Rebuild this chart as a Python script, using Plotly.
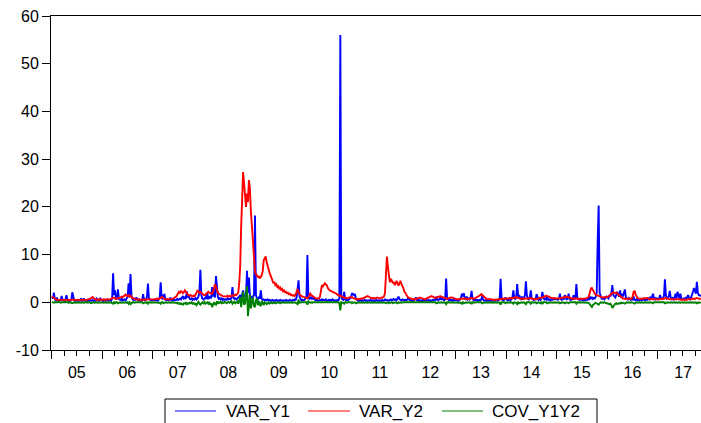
import pandas as pd
import plotly.graph_objects as go

# Weekly readings, one row per calendar year (2017 runs to early November)
YEARS = list(range(2005, 2018))

var_y1 = [
    [1.2, 0.8, 2.0, 0.6, 0.4, 1.0, 0.4, 0.3, 0.5, 0.4, 1.3, 0.5, 0.4, 0.3, 0.6, 1.5, 0.5, 0.3, 0.4, 0.3,
     0.5, 2.1, 1.2, 0.4, 0.3, 0.4, 0.3, 0.5, 0.3, 0.4, 0.8, 0.3, 0.4, 0.8, 0.3, 0.3, 0.4, 0.3, 0.5, 0.3,
     0.4, 0.3, 0.5, 0.3, 0.4, 0.3, 0.8, 0.4, 0.3, 0.5, 0.9, 0.4],
    [0.4, 0.3, 0.5, 0.3, 0.4, 0.6, 0.3, 0.4, 0.5, 0.3, 0.8, 6.1, 1.5, 2.5, 0.6, 0.8, 2.7, 0.7, 0.5, 0.4,
     0.9, 0.4, 0.5, 0.6, 0.4, 0.8, 1.2, 4.0, 1.0, 5.9, 1.3, 0.7, 0.5, 0.9, 0.4, 1.0, 0.5, 0.4, 0.6, 0.3,
     0.5, 0.4, 1.7, 0.5, 0.4, 0.6, 1.2, 3.9, 0.8, 0.5, 0.4, 0.5],
    [0.5, 0.4, 0.6, 0.4, 0.5, 0.3, 0.6, 1.0, 4.2, 1.2, 0.6, 1.5, 1.6, 0.5, 0.4, 0.6, 0.4, 0.5, 1.0, 0.4,
     0.5, 0.4, 0.6, 0.4, 0.5, 0.7, 0.5, 0.6, 0.8, 0.6, 0.9, 1.3, 0.8, 1.0, 0.7, 2.3, 1.0, 1.5, 0.7, 0.6,
     0.8, 0.5, 0.7, 0.6, 0.9, 0.6, 0.8, 1.2, 2.0, 6.8, 1.5, 0.8],
    [0.6, 0.8, 1.0, 0.7, 2.0, 0.8, 0.9, 1.3, 0.8, 3.2, 1.2, 2.5, 1.0, 5.5, 2.8, 1.0, 0.7, 0.9, 0.6, 0.8,
     0.5, 0.7, 0.5, 0.6, 0.5, 0.8, 0.6, 0.7, 0.6, 1.0, 3.2, 1.0, 0.7, 0.8, 0.6, 0.9, 1.0, 1.2, 1.5, 0.8,
     1.8, 2.5, 1.2, 1.5, 1.0, 6.6, 2.0, 5.2, 1.5, 1.0, 0.8, 1.2],
    [1.5, 18.2, 1.5, 0.8, 0.6, 1.0, 0.8, 2.5, 0.7, 0.5, 0.6, 0.4, 0.5, 0.4, 0.6, 0.4, 0.5, 0.3, 0.4, 0.5,
     0.3, 0.4, 0.3, 0.5, 0.3, 0.4, 0.3, 0.5, 0.3, 0.4, 0.3, 0.4, 0.3, 0.5, 0.3, 0.4, 0.3, 0.5, 0.4, 0.3,
     0.5, 0.4, 0.6, 0.5, 1.0, 3.5, 4.6, 1.2, 0.6, 0.4, 0.5, 0.4],
    [0.5, 0.8, 1.2, 9.9, 1.2, 0.6, 1.0, 0.8, 1.2, 0.6, 1.0, 0.5, 0.4, 0.5, 0.3, 0.4, 0.5, 0.4, 0.6, 0.4,
     0.5, 0.4, 0.6, 0.4, 0.3, 0.5, 0.4, 0.5, 0.3, 0.6, 0.4, 0.3, 0.4, 0.3, 0.5, 0.4, 0.8, 56.0, 1.5, 0.6,
     0.5, 2.2, 0.6, 0.4, 0.5, 0.4, 0.6, 0.8, 1.0, 1.8, 1.8, 1.5],
    [1.6, 0.8, 0.4, 0.3, 0.4, 0.3, 0.5, 0.3, 0.4, 0.3, 0.5, 0.3, 0.4, 0.3, 0.4, 0.3, 0.5, 0.3, 0.4, 0.3,
     0.4, 0.3, 0.5, 0.3, 0.4, 0.3, 0.4, 0.3, 0.5, 0.3, 0.4, 0.6, 0.4, 0.5, 0.3, 0.4, 0.5, 0.6, 0.4, 0.5,
     0.7, 0.5, 0.6, 0.4, 0.8, 1.2, 0.6, 0.5, 0.4, 0.6, 0.5, 0.4],
    [0.5, 0.4, 0.6, 1.0, 0.5, 0.4, 0.3, 0.5, 0.3, 0.4, 0.6, 1.0, 0.4, 0.3, 0.5, 0.3, 0.4, 0.3, 0.5, 0.3,
     0.4, 0.6, 0.4, 0.3, 0.5, 0.3, 0.4, 0.3, 0.5, 0.4, 0.6, 0.5, 1.2, 0.5, 0.4, 0.6, 0.9, 0.5, 0.9, 0.6,
     0.4, 0.6, 5.0, 0.8, 0.5, 0.4, 0.6, 0.4, 0.5, 0.3, 0.5, 0.4],
    [0.4, 0.5, 0.3, 0.4, 0.6, 0.8, 1.8, 1.2, 1.9, 0.9, 0.7, 1.2, 0.6, 0.8, 0.6, 1.0, 2.4, 0.8, 0.5, 0.4,
     0.6, 0.4, 0.5, 0.3, 0.5, 0.4, 0.6, 1.3, 0.5, 0.4, 0.3, 0.5, 0.3, 0.4, 0.3, 0.5, 0.3, 0.5, 0.3, 0.4,
     0.3, 0.5, 0.4, 0.3, 0.5, 0.6, 4.9, 0.8, 0.5, 0.4, 0.6, 1.0],
    [0.6, 0.4, 0.5, 0.8, 0.4, 0.6, 1.0, 2.5, 0.9, 0.6, 1.2, 3.8, 1.2, 1.5, 0.7, 0.5, 1.2, 0.6, 0.9, 1.5,
     4.4, 1.4, 0.8, 0.6, 1.0, 2.5, 0.8, 0.6, 0.5, 0.7, 0.6, 1.7, 0.8, 0.5, 0.7, 0.5, 0.8, 2.2, 1.0, 0.6,
     0.8, 0.6, 1.2, 0.5, 0.6, 0.4, 0.7, 0.5, 0.6, 0.8, 0.6, 0.7],
    [0.6, 0.5, 0.8, 1.8, 0.6, 0.5, 0.8, 0.6, 1.5, 0.7, 0.5, 0.9, 1.8, 0.6, 0.5, 0.7, 0.5, 1.5, 0.6, 1.0,
     3.8, 0.9, 0.6, 0.5, 0.7, 0.5, 0.6, 0.4, 0.5, 0.4, 0.6, 0.5, 0.7, 0.6, 1.2, 0.8, 1.0, 0.7, 0.9, 0.8,
     1.2, 2.0, 13.0, 20.3, 2.0, 1.0, 0.8, 0.7, 0.9, 0.6, 1.0, 1.2],
    [1.0, 0.8, 1.5, 1.2, 2.0, 3.6, 1.5, 1.2, 1.0, 1.5, 2.2, 1.6, 1.2, 2.5, 1.0, 1.8, 1.2, 2.0, 2.7, 1.0,
     0.8, 0.6, 0.9, 0.6, 0.5, 0.8, 0.6, 1.2, 0.5, 0.4, 0.6, 0.4, 0.5, 0.4, 0.6, 0.4, 0.5, 0.7, 0.5, 0.4,
     0.6, 0.5, 0.8, 0.6, 1.0, 0.7, 1.2, 1.8, 0.8, 0.6, 0.9, 0.7],
    [0.6, 0.8, 1.5, 0.9, 0.7, 1.0, 1.2, 4.8, 1.5, 0.8, 1.0, 1.2, 2.4, 1.0, 0.7, 0.9, 0.6, 1.0, 1.8, 0.8,
     2.2, 1.2, 0.8, 1.8, 0.7, 0.6, 0.8, 0.6, 0.9, 0.7, 1.2, 1.5, 0.8, 0.6, 1.0, 1.5, 2.2, 3.0, 2.3, 1.8,
     4.3, 2.0, 1.5, 1.5, 1.2],
]

var_y2 = [
    [1.2, 1.0, 0.8, 0.7, 0.6, 0.5, 0.5, 0.6, 0.5, 0.5, 0.6, 0.5, 0.5, 0.6, 0.5, 0.6, 0.5, 0.5, 0.4, 0.5,
     0.5, 0.6, 0.5, 0.5, 0.4, 0.5, 0.5, 0.4, 0.5, 0.4, 0.5, 0.4, 0.5, 0.5, 0.4, 0.5, 0.5, 0.6, 0.6, 0.7,
     0.8, 1.0, 1.1, 0.9, 0.7, 0.6, 0.6, 0.5, 0.6, 0.5, 0.6, 0.5],
    [0.5, 0.6, 0.5, 0.6, 0.5, 0.6, 0.6, 0.5, 0.6, 0.7, 0.8, 1.0, 0.9, 0.8, 0.7, 0.8, 0.9, 0.8, 0.9, 1.1,
     1.2, 1.1, 1.3, 1.4, 1.6, 1.4, 1.3, 1.5, 1.2, 1.4, 1.1, 0.9, 0.8, 0.7, 0.7, 0.6, 0.6, 0.5, 0.6, 0.5,
     0.5, 0.6, 0.5, 0.5, 0.6, 0.5, 0.6, 0.6, 0.7, 0.6, 0.6, 0.7],
    [0.6, 0.6, 0.7, 0.6, 0.8, 0.7, 0.7, 0.8, 0.9, 1.1, 1.0, 0.8, 0.7, 0.6, 0.6, 0.7, 0.6, 0.6, 0.7, 0.6,
     0.7, 0.8, 0.9, 1.0, 1.2, 1.5, 1.8, 2.2, 2.0, 2.3, 2.2, 1.9, 2.1, 2.5, 2.2, 1.8, 1.6, 1.5, 1.4, 1.5,
     1.3, 1.2, 1.4, 1.3, 1.6, 2.0, 2.4, 2.3, 2.0, 2.2, 2.0, 1.7],
    [1.6, 1.5, 1.5, 1.8, 2.0, 2.2, 2.0, 1.9, 1.8, 1.8, 2.2, 2.8, 3.8, 3.2, 2.5, 2.0, 1.8, 1.6, 1.5, 1.4,
     1.3, 1.3, 1.2, 1.3, 1.2, 1.4, 1.2, 1.3, 1.2, 1.4, 1.5, 1.3, 1.5, 1.6, 1.5, 1.8, 2.0, 4.0, 7.4, 15.8,
     22.0, 27.3, 25.0, 21.4, 20.0, 22.8, 21.0, 25.6, 24.0, 19.3, 15.8, 12.0],
    [8.8, 6.5, 5.8, 5.7, 5.2, 5.5, 5.0, 5.4, 5.7, 6.5, 8.8, 9.2, 9.6, 8.5, 7.6, 6.7, 6.2, 5.7, 5.0, 4.4,
     4.0, 4.3, 3.6, 3.8, 3.2, 3.4, 2.9, 3.1, 2.6, 2.8, 2.3, 2.5, 2.1, 2.2, 1.9, 2.0, 1.7, 1.8, 1.5, 1.6,
     1.4, 1.5, 1.3, 1.6, 2.2, 2.8, 2.0, 1.6, 1.5, 1.3, 1.2, 1.1],
    [1.0, 0.9, 0.8, 0.8, 1.0, 1.4, 1.8, 1.5, 1.3, 1.1, 1.0, 0.9, 0.8, 0.8, 0.7, 0.8, 1.2, 2.5, 3.6, 3.3,
     3.8, 4.0, 3.7, 3.6, 3.0, 2.7, 2.5, 2.4, 2.3, 2.2, 2.2, 2.0, 1.9, 1.8, 1.6, 1.5, 1.4, 1.3, 1.2, 1.2,
     1.1, 1.0, 0.9, 0.9, 0.8, 0.9, 1.0, 1.1, 1.0, 1.1, 0.9, 0.8],
    [0.7, 0.6, 0.6, 0.7, 0.6, 0.7, 0.8, 0.7, 0.8, 0.9, 1.0, 1.1, 1.2, 1.3, 1.2, 1.0, 0.9, 0.8, 0.9, 0.8,
     0.9, 0.8, 0.9, 1.0, 0.9, 0.8, 0.9, 1.0, 0.9, 1.0, 1.2, 2.0, 6.5, 9.6, 7.4, 5.5, 4.2, 4.8, 4.6, 4.0,
     4.3, 3.6, 3.9, 4.5, 3.8, 3.5, 4.0, 4.5, 3.8, 3.4, 3.0, 2.2],
    [2.0, 1.5, 1.2, 1.0, 0.9, 0.8, 0.7, 0.7, 0.6, 0.7, 0.6, 0.7, 0.8, 0.9, 1.0, 1.0, 0.9, 0.8, 0.7, 0.7,
     0.6, 0.7, 0.8, 0.9, 1.0, 1.1, 1.2, 1.3, 1.2, 1.1, 1.0, 0.9, 1.0, 1.1, 1.2, 1.1, 1.3, 1.2, 1.1, 1.0,
     0.9, 0.8, 0.8, 0.7, 0.8, 0.9, 0.9, 1.0, 1.0, 0.9, 0.8, 0.7],
    [0.7, 0.6, 0.6, 0.7, 0.6, 0.7, 0.8, 0.7, 0.8, 0.7, 0.8, 0.7, 0.6, 0.7, 0.8, 0.8, 0.9, 0.8, 0.7, 0.8,
     0.9, 1.0, 1.1, 1.2, 1.3, 1.5, 1.7, 1.5, 1.2, 1.0, 0.9, 0.8, 0.7, 0.7, 0.6, 0.6, 0.6, 0.6, 0.5, 0.6,
     0.6, 0.5, 0.6, 0.6, 0.7, 0.6, 0.6, 0.7, 0.8, 0.7, 0.7, 0.8],
    [0.8, 0.7, 0.8, 0.8, 0.9, 0.8, 0.8, 0.9, 1.0, 1.0, 1.1, 1.0, 0.9, 0.8, 0.7, 0.7, 0.8, 0.7, 0.7, 0.8,
     0.8, 0.7, 0.7, 0.8, 0.8, 0.9, 0.8, 0.7, 0.7, 0.6, 0.7, 0.7, 0.8, 0.8, 0.9, 0.9, 1.0, 1.0, 1.1, 1.2,
     1.3, 1.4, 1.3, 1.3, 1.2, 1.0, 0.9, 0.8, 0.8, 0.9, 0.8, 0.8],
    [0.8, 0.8, 0.9, 0.9, 0.8, 0.9, 1.0, 1.0, 1.1, 1.1, 1.2, 1.1, 1.0, 0.9, 0.9, 0.8, 0.8, 0.7, 0.8, 0.8,
     0.9, 0.8, 0.7, 0.7, 0.8, 0.7, 0.7, 0.8, 0.7, 0.8, 0.8, 0.9, 1.0, 1.3, 2.2, 2.9, 3.0, 2.5, 2.0, 1.8,
     1.6, 1.5, 1.4, 1.4, 1.3, 1.2, 1.1, 1.0, 1.0, 1.1, 1.0, 1.1],
    [1.1, 1.2, 1.3, 1.6, 1.8, 2.0, 2.1, 2.0, 1.9, 2.0, 1.8, 1.7, 1.4, 1.2, 1.0, 0.9, 0.8, 0.8, 0.7, 0.7,
     0.8, 0.7, 0.7, 0.8, 0.7, 0.8, 1.2, 2.2, 2.4, 1.6, 1.1, 0.9, 0.8, 0.7, 0.7, 0.8, 0.7, 0.8, 0.9, 0.8,
     0.9, 0.9, 0.8, 0.7, 0.6, 0.7, 0.6, 0.6, 0.7, 0.6, 0.6, 0.6],
    [0.6, 0.7, 0.6, 0.6, 0.7, 0.8, 0.7, 0.8, 0.9, 0.8, 0.7, 0.7, 0.6, 0.6, 0.7, 0.6, 0.6, 0.5, 0.6, 0.6,
     0.7, 0.6, 0.6, 0.5, 0.5, 0.6, 0.5, 0.6, 0.6, 0.5, 0.6, 0.6, 0.7, 0.6, 0.6, 0.7, 0.8, 0.7, 0.7, 0.8,
     0.9, 0.8, 0.7, 0.7, 0.8],
]

cov_y1y2 = [
    [0.1, 0.0, -0.1, 0.0, 0.0, -0.1, 0.0, 0.1, 0.0, -0.1, 0.0, 0.0, -0.1, 0.0, 0.0, 0.1, 0.0, -0.1, 0.0, 0.0,
     -0.1, -0.2, 0.0, 0.0, -0.1, 0.0, 0.0, -0.1, 0.0, 0.0, -0.1, 0.0, 0.0, -0.1, 0.0, 0.0, 0.0, -0.1, 0.0, 0.0,
     -0.2, -0.1, 0.0, 0.0, -0.1, 0.0, 0.0, -0.1, 0.0, 0.0, -0.1, 0.0],
    [0.0, -0.1, 0.0, 0.0, -0.1, 0.0, 0.0, -0.1, 0.0, 0.0, -0.2, -0.3, 0.0, -0.2, 0.0, 0.0, -0.2, 0.0, 0.0, -0.1,
     0.0, 0.0, -0.1, 0.0, 0.0, -0.1, 0.0, -0.3, 0.0, -0.4, -0.1, 0.0, 0.0, -0.1, 0.0, 0.0, -0.1, 0.0, 0.0, -0.1,
     0.0, 0.0, -0.2, 0.0, 0.0, -0.1, 0.0, -0.3, 0.0, 0.0, -0.1, 0.0],
    [0.0, -0.1, 0.0, 0.0, -0.1, 0.0, 0.0, -0.1, -0.3, 0.0, 0.0, -0.2, -0.1, 0.0, 0.0, -0.1, 0.0, 0.0, -0.1, 0.0,
     0.0, -0.1, 0.0, -0.1, -0.2, -0.1, -0.3, -0.2, -0.4, -0.2, -0.3, -0.5, -0.2, -0.3, -0.1, -0.4, -0.2, -0.3, -0.1, -0.2,
     0.0, -0.3, -0.2, -0.4, -0.3, -0.6, -0.2, 0.1, -0.3, -0.5, -0.2, 0.0],
    [-0.2, 0.1, -0.3, -0.2, 0.0, -0.3, 0.1, -0.5, -0.2, -1.0, -0.3, 0.0, -0.4, -0.5, 0.2, -0.3, 0.0, -0.1, 0.1, -0.2,
     0.0, -0.1, 0.1, 0.0, -0.2, 0.0, 0.1, -0.1, 0.0, 0.2, -0.3, 0.0, 0.1, -0.2, 0.0, 0.2, -0.3, 0.3, 1.1, -1.0,
     0.5, 2.2, -0.5, -0.3, 1.5, 3.4, -2.9, 0.5, 1.5, -1.3, 0.6, 1.1],
    [-0.8, -1.0, 0.4, 0.8, -0.6, 0.2, -0.5, -0.8, 0.3, -0.4, -0.6, 0.1, -0.3, -0.4, -0.2, 0.0, -0.3, -0.2, 0.0, -0.2,
     -0.1, 0.0, -0.2, -0.1, 0.0, -0.1, 0.0, -0.2, 0.0, -0.1, 0.0, 0.0, -0.1, 0.0, 0.0, -0.1, 0.0, 0.0, -0.1, 0.0,
     -0.1, 0.0, 0.0, -0.1, -0.2, -0.4, 0.6, -0.1, 0.0, 0.0, -0.1, 0.0],
    [0.0, -0.1, 0.0, -0.5, 0.2, 0.0, -0.1, 0.0, -0.1, 0.0, 0.0, -0.1, 0.0, 0.0, -0.1, 0.0, 0.0, -0.1, 0.0, -0.1,
     0.0, 0.0, -0.1, 0.0, 0.0, -0.1, 0.0, 0.0, -0.1, 0.0, 0.0, -0.1, 0.0, 0.0, -0.1, 0.0, -0.2, -1.7, 0.0, 0.0,
     -0.1, -0.3, 0.0, 0.0, -0.1, 0.0, 0.0, -0.1, 0.0, -0.2, 0.0, -0.1],
    [0.0, -0.2, 0.0, 0.0, -0.1, 0.0, 0.0, -0.1, 0.0, 0.0, -0.1, 0.0, 0.0, -0.1, 0.0, 0.0, -0.1, 0.0, 0.0, -0.1,
     0.0, 0.0, -0.1, 0.0, 0.0, -0.1, 0.0, 0.0, -0.1, 0.0, 0.0, -0.1, -0.2, -0.1, 0.0, -0.2, 0.0, -0.1, 0.0, -0.2,
     0.0, -0.1, 0.0, -0.1, -0.2, 0.0, -0.1, 0.0, -0.1, 0.0, 0.0, -0.1],
    [0.0, -0.1, 0.0, -0.1, 0.0, 0.0, -0.1, 0.0, 0.0, -0.1, 0.0, -0.1, 0.0, 0.0, -0.1, 0.0, 0.0, -0.1, 0.0, 0.0,
     -0.1, 0.0, 0.0, -0.1, 0.0, 0.0, -0.1, 0.0, 0.0, -0.1, 0.0, 0.0, -0.2, 0.0, 0.0, -0.1, 0.0, 0.0, -0.1, 0.0,
     0.0, -0.1, -0.4, 0.0, 0.0, -0.1, 0.0, 0.0, -0.1, 0.0, 0.0, -0.1],
    [0.0, 0.0, -0.1, 0.0, 0.0, -0.1, -0.3, 0.0, -0.2, 0.0, 0.0, -0.1, 0.0, 0.0, -0.1, 0.0, -0.4, 0.0, 0.0, -0.1,
     0.0, 0.0, -0.1, 0.0, 0.0, -0.1, 0.0, -0.2, 0.0, 0.0, -0.1, 0.0, 0.0, -0.1, 0.0, 0.0, -0.1, 0.0, 0.0, -0.1,
     0.0, 0.0, -0.1, 0.0, 0.0, -0.1, -0.5, 0.0, 0.0, -0.1, 0.0, -0.2],
    [0.0, -0.1, 0.0, 0.0, -0.1, 0.0, -0.1, -0.3, 0.0, 0.0, -0.1, -0.4, 0.0, -0.2, 0.0, 0.0, -0.1, 0.0, 0.0, -0.2,
     -0.4, 0.0, 0.0, -0.1, 0.0, -0.3, 0.0, 0.0, -0.1, 0.0, 0.0, -0.2, 0.0, 0.0, -0.1, -0.2, 0.0, -0.4, 0.0, 0.0,
     -0.1, 0.0, -0.2, 0.0, 0.0, -0.1, 0.0, 0.0, -0.1, 0.0, 0.0, -0.1],
    [0.0, -0.1, 0.0, -0.2, 0.0, 0.0, -0.1, 0.0, -0.2, 0.0, 0.0, -0.1, -0.2, 0.0, 0.0, -0.1, 0.0, 0.0, -0.1, 0.0,
     -0.3, 0.0, 0.0, -0.1, 0.0, 0.0, -0.1, 0.0, 0.0, -0.1, 0.0, 0.0, -0.1, -0.2, -0.4, -0.7, -1.0, -0.6, -0.3, -0.2,
     -0.1, -0.2, -0.3, -0.5, -0.2, 0.0, -0.1, 0.0, -0.1, 0.0, -0.1, -0.2],
    [-0.2, -0.3, -0.4, -0.3, -0.6, -1.2, -0.8, -0.4, -0.3, -0.2, -0.4, -0.3, -0.2, -0.3, -0.1, -0.2, -0.1, -0.2, -0.3, -0.1,
     0.0, -0.1, 0.0, -0.1, 0.0, 0.0, -0.1, -0.2, -0.3, -0.1, 0.0, -0.1, 0.0, 0.0, -0.1, 0.0, 0.0, -0.1, 0.0, 0.0,
     -0.1, 0.0, 0.0, -0.1, 0.0, 0.0, -0.1, -0.2, 0.0, 0.0, -0.1, 0.0],
    [0.0, -0.1, 0.0, 0.0, -0.1, 0.0, 0.0, -0.2, 0.0, 0.0, -0.1, 0.0, -0.1, 0.0, 0.0, -0.1, 0.0, 0.0, -0.1, 0.0,
     -0.1, 0.0, 0.0, -0.1, 0.0, 0.0, -0.1, 0.0, 0.0, -0.1, 0.0, 0.0, -0.1, 0.0, 0.0, -0.1, 0.0, -0.1, 0.0, 0.0,
     -0.2, 0.0, 0.0, -0.1, 0.0],
]

Y_TICKS = [-10, 0, 10, 20, 30, 40, 50, 60]
Y_TICK_TEXT = ["-10", "0", "10", "20", "30", "40", "50", "60"]

SERIES = [
    ("VAR_Y1", var_y1, "#0000FF"),
    ("VAR_Y2", var_y2, "#FF0000"),
    ("COV_Y1Y2", cov_y1y2, "#008000"),
]

FONT = "Liberation Sans, Arial, sans-serif"


def flatten(rows):
    """Turn per-year weekly rows into (dates, values)."""
    dates, values = [], []
    for year, row in zip(YEARS, rows):
        start = pd.Timestamp(year, 1, 1)
        for week, v in enumerate(row):
            dates.append(start + pd.Timedelta(days=3 + 7 * week))
            values.append(v)
    return dates, values


fig = go.Figure()
for name, rows, color in SERIES:
    x, y = flatten(rows)
    fig.add_trace(go.Scatter(x=x, y=y, mode="lines", name=name,
                             line=dict(color=color, width=1.9),
                             showlegend=False))

# Plot area in pixels: x 51..701, y 16..350
L, R, T, B = 51, 701, 16, 350


def px(xp):
    return (xp - L) / (R - L)


def py(yp):
    return (B - yp) / (B - T)


# Boxed legend beneath the plot
shapes = [dict(type="rect", xref="paper", yref="paper",
               x0=px(165), x1=px(597), y0=py(399), y1=py(440),
               line=dict(color="black", width=1), fillcolor="white", layer="above")]
annotations = []
legend_items = [(175, 216, 224), (308, 350, 357), (442, 483, 490)]
for (name, _, color), (lx0, lx1, tx) in zip(SERIES, legend_items):
    shapes.append(dict(type="line", xref="paper", yref="paper",
                       x0=px(lx0), x1=px(lx1), y0=py(411), y1=py(411),
                       line=dict(color=color, width=1)))
    annotations.append(dict(xref="paper", yref="paper", x=px(tx), y=py(411.5),
                            text=name, showarrow=False, xanchor="left", yanchor="middle",
                            font=dict(family=FONT, size=17, color="black")))

fig.update_layout(
    width=701, height=423,
    margin=dict(l=L, r=701 - R, t=T, b=423 - B, pad=0),
    paper_bgcolor="white", plot_bgcolor="white",
    font=dict(family=FONT, size=16, color="black"),
    shapes=shapes, annotations=annotations,
    showlegend=False,
)

fig.update_xaxes(
    type="date",
    range=["2004-12-28", "2017-11-10"],
    tick0="2005-01-01", dtick="M12", tickformat="%y",
    ticklabelmode="period",
    ticks="outside", ticklen=8, tickcolor="black", tickwidth=1,
    minor=dict(dtick="M3", ticks="outside", ticklen=5, tickcolor="black", tickwidth=1),
    showline=True, linecolor="black", linewidth=1, mirror=True,
    showgrid=False, zeroline=False,
    tickfont=dict(family=FONT, size=16, color="black"),
)

fig.update_yaxes(
    range=[-10, 60],
    tickvals=Y_TICKS, ticktext=Y_TICK_TEXT,
    ticks="outside", ticklen=8, tickcolor="black", tickwidth=1,
    showline=True, linecolor="black", linewidth=1,
    showgrid=False, zeroline=False,
    tickfont=dict(family=FONT, size=16, color="black"),
)

fig.write_html("out.html")
